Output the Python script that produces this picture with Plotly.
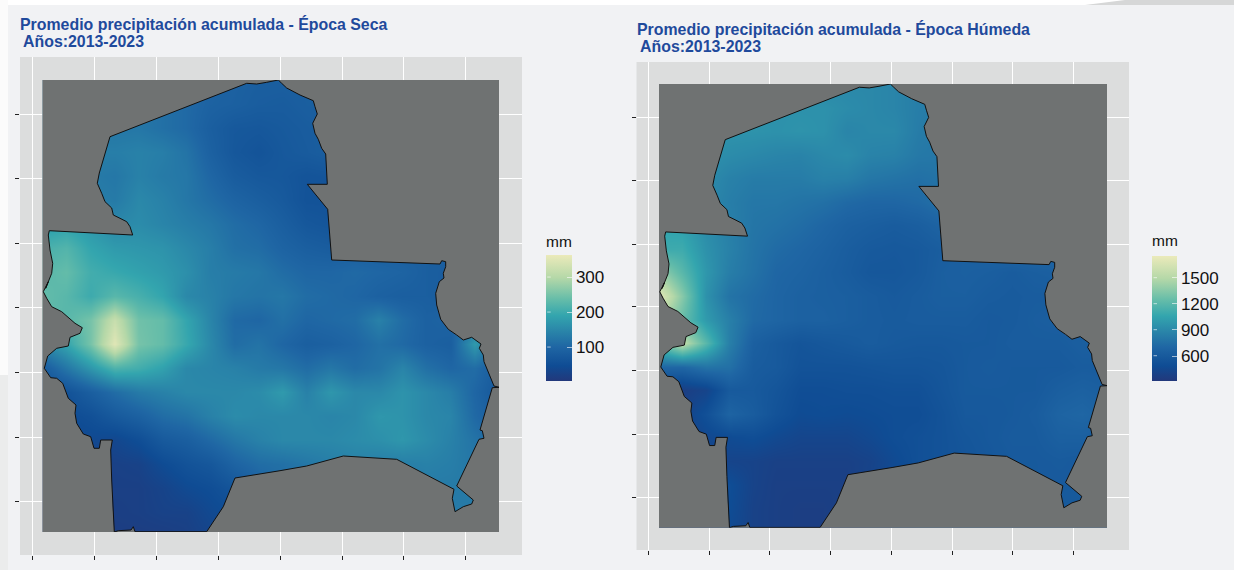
import plotly.graph_objects as go

# Map outline (map units shared by both panels)
OUTLINE_X = [49.3,132.7,130,126.7,120,113.3,111.7,105,101.7,97.3,99.3,110,246.7,256.7,266.7,278.3,281.7,286.7,300,313.3,315,317.3,312.7,315,318.3,321.7,325.7,327.3,307.3,327.7,331.7,440,441.7,445.7,445.7,443.3,444,439.3,435.7,436.7,440.7,448.3,456.7,463.3,471.7,481,479.3,483.3,484,491,494,499,492.3,480,482.3,484,479,456.7,473.3,471.7,463.3,455,452.3,454,396.7,343.3,306.7,280,235,223.3,206.7,135,133.3,131,118.3,114.3,112.7,111.7,110.7,112.3,100.7,99.3,94,90.7,83.3,76.7,75,76,68.3,62.7,56.7,50.7,44.3,47.7,56.7,68.3,70,80,82.3,75,61.7,51.7,46.7,43.3,48.3,45.7,51.7,52.7,50,48.3,49.3]
OUTLINE_Y = [230.7,235,226.7,221.7,218.3,215,208,201.7,193.3,183.3,173,136.7,83.3,84,82.3,80,83.3,88,95,100.7,106.7,114,123.3,133.3,139.3,148.3,154,184.3,184.3,209.3,260,264,260.7,261.7,266.7,273.3,278,281.7,293.3,305,319.3,329.3,335,340,337.3,344,348.3,355,361.7,378.3,386,387.3,387.7,430,430.7,438.3,439.3,486,500,504,506.7,511.7,498.3,489.3,459.3,456,466,470.7,478,506.7,531.7,531.7,526.7,530,530.7,532,506.7,480,450,440,440,448.3,448.3,436.7,434,423.3,413.3,405,398.3,383.3,378.3,377.7,368.3,356,348.3,346,337.3,333.3,327.7,323.3,311.7,306.7,298.3,291.7,281.7,288.3,273.3,263.3,250,235,230.7]

GRID_X = [42,66,90,114,138,162,186,210,234,258,282,306,330,354,378,402,426,450,474,498]
GRID_Y = [80,104,128,152,176,200,224,248,272,296,320,344,368,392,416,440,464,488,512,536]

SECA_MM = [
 [130,130,130,125,120,115,105,95,90,85,85,85,85,85,85,85,85,85,85,85],
 [130,130,130,125,120,115,105,92,88,82,80,85,85,85,85,85,85,85,85,85],
 [135,135,130,125,125,115,105,85,72,70,75,80,85,85,85,85,85,85,85,85],
 [140,140,135,135,140,135,120,90,70,62,72,78,85,85,85,85,85,85,85,85],
 [145,140,130,125,140,130,125,100,80,72,70,62,65,75,85,85,85,85,85,85],
 [155,150,135,130,150,140,125,110,95,85,75,60,60,75,85,85,85,85,85,85],
 [175,185,170,150,155,145,135,125,110,100,85,70,65,80,85,85,85,85,85,85],
 [210,220,190,175,170,165,150,135,115,110,95,85,80,85,85,85,85,85,85,85],
 [225,235,205,195,185,175,160,135,130,125,110,100,100,105,100,95,85,80,85,85],
 [235,225,200,225,210,190,150,140,125,120,125,110,105,100,90,85,85,80,85,85],
 [230,225,250,320,245,235,190,145,105,100,115,100,105,110,140,110,90,95,110,105],
 [150,190,250,350,250,235,195,150,110,120,100,85,90,100,115,105,90,85,175,100],
 [80,125,170,215,205,185,150,145,140,130,125,110,125,110,120,145,115,100,110,80],
 [50,60,85,110,130,140,150,150,150,155,175,140,170,150,150,165,150,135,100,70],
 [40,45,55,75,90,110,120,140,155,150,150,150,145,150,170,165,150,145,105,80],
 [30,35,40,35,50,75,85,105,125,140,150,150,150,155,160,170,155,140,120,100],
 [25,25,25,22,25,45,60,70,95,110,115,125,135,140,135,135,140,135,125,120],
 [20,20,20,20,20,28,42,50,65,90,110,120,130,130,130,130,130,130,130,130],
 [18,18,18,18,20,25,25,40,50,80,110,120,130,130,130,130,130,130,130,130],
 [15,15,15,15,15,15,20,30,50,80,110,120,130,130,130,130,130,130,130,130],
]

HUMEDA_MM = [
 [900,900,900,900,900,900,900,900,900,900,880,840,820,800,800,800,800,800,800,800],
 [950,950,950,950,950,950,950,950,920,900,880,840,820,800,800,800,800,800,800,800],
 [950,950,950,960,960,950,960,950,880,900,900,830,800,800,800,800,800,800,800,800],
 [950,950,950,920,900,880,870,900,920,870,860,810,800,780,780,780,780,780,780,780],
 [950,950,920,860,830,830,830,860,850,800,780,760,780,760,740,740,740,740,740,740],
 [1000,980,900,840,800,800,780,760,720,700,700,720,760,720,700,700,700,700,700,700],
 [1050,1030,920,850,790,770,740,700,660,640,620,640,680,680,680,680,680,680,680,680],
 [1100,1100,950,860,780,730,700,670,630,600,590,600,630,650,680,700,720,720,720,720],
 [1400,1200,980,840,770,700,680,650,620,580,580,600,640,650,640,620,640,650,650,650],
 [1700,1350,950,780,730,690,660,650,640,620,600,620,640,640,620,610,620,620,640,640],
 [1500,1250,1000,850,720,690,660,660,640,620,610,620,620,620,600,610,630,640,640,640],
 [1250,1550,1200,850,650,600,560,580,600,620,600,590,590,600,600,620,620,620,640,640],
 [700,700,780,760,620,600,540,540,540,550,560,560,570,600,610,600,600,600,620,620],
 [400,370,420,600,600,560,500,500,510,510,520,520,560,600,600,600,600,640,660,640],
 [400,400,520,680,620,540,480,490,480,490,500,500,540,590,590,600,620,680,700,660],
 [400,400,450,480,500,460,430,430,430,460,500,520,540,570,590,610,610,650,650,640],
 [400,400,400,420,410,390,390,390,390,410,470,520,540,560,580,600,600,610,600,600],
 [400,400,400,500,410,380,380,380,380,420,480,520,540,560,580,600,600,600,600,600],
 [400,400,400,490,400,380,370,370,390,430,480,520,540,560,580,600,600,600,600,600],
 [400,400,400,470,400,380,370,370,390,430,480,520,540,560,580,600,600,600,600,600],
]

X_TICKS = [32.5,94,156,218,280,342,403,465]
Y_TICKS = [114,178,243,307,372,437,501]
SECA_TICKS = [100,200,300]
HUMEDA_TICKS = [600,900,1200,1500]
TITLE_1 = "Promedio precipitación acumulada - Época Seca"
TITLE_2 = "Promedio precipitación acumulada - Época Húmeda"
SUBTITLE = "Años:2013-2023"

W, H = 1234, 570
BG = "#f1f2f4"
PANEL = "#dcdddd"
MASK = "#6f7272"
INK = "#1f4a9c"
FONT = "Liberation Sans"
MAP_X = [42.5, 499]
MAP_Y = [532, 80]
SCALE = [[0,"#22387b"],[0.12,"#0f4c94"],[0.27,"#1f66a4"],[0.4,"#2a86a9"],[0.52,"#33a5ae"],
         [0.65,"#66bda9"],[0.82,"#b5d8a8"],[1,"#ebeaba"]]

def dx(a, b): return [a / W, b / W]
def dy(t, b): return [1 - b / H, 1 - t / H]

fig = go.Figure()

# outer rectangle (slightly past the clip) + bridge + reversed outline = a map-shaped hole in the grey mask
mx0, mx1, my0, my1 = MAP_X[0] - 6, MAP_X[1] + 6, MAP_Y[1] - 6, MAP_Y[0] + 6
mask_x = [mx0, mx1, mx1, mx0, mx0] + OUTLINE_X[::-1] + [mx0]
mask_y = [my0, my0, my1, my1, my0] + OUTLINE_Y[::-1] + [my0]

panels = [
    dict(z=SECA_MM, zr=(3, 363), ticks=SECA_TICKS, outer=(20, 57, 522, 555), inner=(42.5, 80, 499, 532),
         bar=(545.7, 255, 571.2, 381), title=TITLE_1, tx=18, ty1=24, ty2=41, sx=21, my=241),
    dict(z=HUMEDA_MM, zr=(314, 1750), ticks=HUMEDA_TICKS, outer=(636.5, 62, 1129, 550), inner=(659, 84, 1107, 527.7),
         bar=(1152, 256, 1177.3, 380.5), title=TITLE_2, tx=634.5, ty1=29, ty2=46, sx=638, my=240),
]

layout = dict(width=W, height=H, margin=dict(l=0, r=0, t=0, b=0), paper_bgcolor=BG, plot_bgcolor=PANEL,
              showlegend=False, font=dict(family=FONT, color="#111111"))
shapes = [
    dict(type="rect", xref="paper", yref="paper", x0=0, x1=1, y0=1 - 5 / H, y1=1, fillcolor="#ffffff", line_width=0, layer="below"),
    dict(type="rect", xref="paper", yref="paper", x0=0, x1=8 / W, y0=1 - 375 / H, y1=1, fillcolor="#fbfbfb", line_width=0, layer="below"),
    dict(type="rect", xref="paper", yref="paper", x0=0, x1=8 / W, y0=0, y1=1 - 375 / H, fillcolor="#ebecec", line_width=0, layer="below"),
    dict(type="path", xref="paper", yref="paper", layer="below", line_width=0, fillcolor="#d6d7d7",
         path=f"M {1085/W} {1-5/H} L {1125/W} 1 L 1 1 L 1 {1-5/H} Z"),
]
annotations = []

for i, p in enumerate(panels):
    ox = "x" + ("" if i == 0 else str(2 * i + 1))
    oy = "y" + ("" if i == 0 else str(2 * i + 1))
    ix, iy = f"x{2*i+2}", f"y{2*i+2}"
    l, t, r, b = p["outer"]
    layout["xaxis" + ox[1:]] = dict(domain=dx(l, r), range=[20, 522], anchor=oy, tickvals=X_TICKS, showticklabels=False,
        ticks="outside", ticklen=4, tickwidth=1, tickcolor="#222222", showgrid=True, gridcolor="#ffffff", gridwidth=1.3, zeroline=False, showline=False)
    layout["yaxis" + oy[1:]] = dict(domain=dy(t, b), range=[555, 57], anchor=ox, tickvals=Y_TICKS, showticklabels=False,
        ticks="outside", ticklen=4, tickwidth=1, tickcolor="#222222", showgrid=True, gridcolor="#ffffff", gridwidth=1.3, zeroline=False, showline=False)
    l2, t2, r2, b2 = p["inner"]
    layout["xaxis" + ix[1:]] = dict(domain=dx(l2, r2), range=MAP_X, anchor=iy, visible=False)
    layout["yaxis" + iy[1:]] = dict(domain=dy(t2, b2), range=MAP_Y, anchor=ix, visible=False)

    # empty trace keeps the outer frame axes (grid and ticks) on the page
    fig.add_trace(go.Scatter(x=[None], y=[None], mode="lines", hoverinfo="skip", xaxis=ox, yaxis=oy))

    bl, bt, br, bb = p["bar"]
    fig.add_trace(go.Heatmap(x=GRID_X, y=GRID_Y, z=p["z"], zmin=p["zr"][0], zmax=p["zr"][1], colorscale=SCALE,
        zsmooth="best", hoverinfo="skip", xaxis=ix, yaxis=iy,
        colorbar=dict(x=bl / W, xanchor="left", y=1 - bt / H, yanchor="top", len=bb - bt, lenmode="pixels",
                      thickness=br - bl, thicknessmode="pixels", xpad=0, ypad=0, outlinewidth=0,
                      tickvals=p["ticks"], ticks="inside", ticklen=5, tickwidth=1, tickcolor="rgba(255,255,255,0.6)",
                      tickfont=dict(size=17, family=FONT, color="#111111"), tickprefix="\u00a0\u00a0")))
    fig.add_trace(go.Scatter(x=mask_x, y=mask_y, mode="lines", fill="toself", fillcolor=MASK, line=dict(width=0),
                             hoverinfo="skip", xaxis=ix, yaxis=iy))
    fig.add_trace(go.Scatter(x=OUTLINE_X, y=OUTLINE_Y, mode="lines", line=dict(color="#111111", width=1),
                             hoverinfo="skip", xaxis=ix, yaxis=iy))

    annotations += [
        dict(text=f"<b>{p['title']}</b>", xref="paper", yref="paper", x=p["tx"] / W, y=1 - p["ty1"] / H, xanchor="left", yanchor="middle",
             showarrow=False, font=dict(size=15.9, color=INK, family=FONT)),
        dict(text=f"<b>{SUBTITLE}</b>", xref="paper", yref="paper", x=p["sx"] / W, y=1 - p["ty2"] / H, xanchor="left", yanchor="middle",
             showarrow=False, font=dict(size=15.9, color=INK, family=FONT)),
        dict(text="mm", xref="paper", yref="paper", x=(bl - 2) / W, y=1 - p["my"] / H, xanchor="left", yanchor="middle",
             showarrow=False, font=dict(size=15.5, color="#111111", family=FONT)),
    ]
    z0, z1 = p["zr"]
    for v in p["ticks"]:
        ypx = bb - (v - z0) / (z1 - z0) * (bb - bt)
        annotations.append(dict(text="", xref="paper", yref="paper", x=(bl + 5) / W, y=1 - ypx / H, ax=-5, ay=0,
                                showarrow=True, arrowhead=0, arrowwidth=1, arrowcolor="rgba(255,255,255,0.6)", standoff=0))

layout["shapes"] = shapes
layout["annotations"] = annotations
fig.update_layout(**layout)
fig.write_html("out.html", config=dict(displayModeBar=False), post_script="document.body.style.margin='0';")
